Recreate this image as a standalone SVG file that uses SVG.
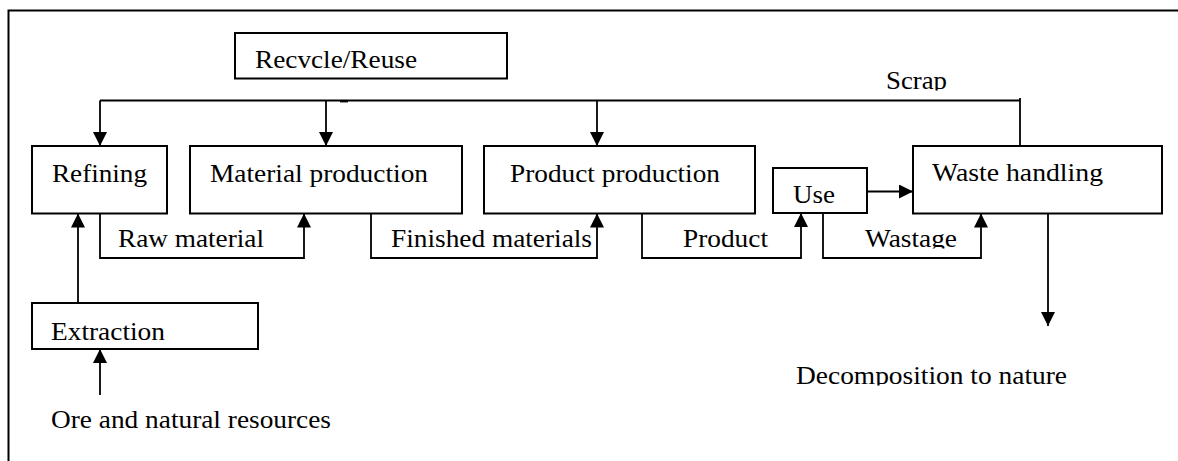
<svg xmlns="http://www.w3.org/2000/svg" width="1178" height="461" viewBox="0 0 1178 461">
  <style>
    .box { fill: #ffffff; stroke: #000000; stroke-width: 2; }
    .frame { fill: none; stroke: #000000; stroke-width: 2; }
    .wire { fill: none; stroke: #000000; stroke-width: 1.8; }
    .arrow { marker-end: url(#head); }
    .lbl { font-family: "Liberation Serif", "Times New Roman", serif; font-size: 25px; fill: #000000; }
  </style>
  <defs>
    <marker id="head" markerUnits="userSpaceOnUse" markerWidth="14" markerHeight="14" refX="14" refY="7" orient="auto">
      <path d="M0,0 L14,7 L0,14 z" fill="#000000"/>
    </marker>
    <!-- labels whose descenders are cut off by their text frames -->
    <clipPath id="clip-scrap"><rect x="870" y="60" width="100" height="30.5"/></clipPath>
    <clipPath id="clip-wastage"><rect x="850" y="220" width="120" height="28.5"/></clipPath>
    <clipPath id="clip-decomp"><rect x="780" y="355" width="300" height="30.5"/></clipPath>
  </defs>

  <rect width="1178" height="461" fill="#ffffff"/>
  <path class="frame" d="M8.5,461 V10.5 H1178"/>

  <g id="connectors">
    <!-- recycle / scrap return line -->
    <path class="wire" d="M100,100.5 H1020"/>
    <path class="wire" d="M1020,98 V146"/>
    <path class="wire" d="M340,101.5 H348"/>
    <path class="wire arrow" d="M100,100.5 V146"/>
    <path class="wire arrow" d="M326,100.5 V146"/>
    <path class="wire arrow" d="M597,100.5 V146"/>
    <!-- main material chain -->
    <path class="wire arrow" d="M78,303 V213.5"/>
    <path class="wire arrow" d="M100,213.5 V258 H304 V213.5"/>
    <path class="wire arrow" d="M371,213.5 V258 H597 V213.5"/>
    <path class="wire arrow" d="M642,213.5 V258 H801 V213"/>
    <path class="wire arrow" d="M823,213 V258 H981 V213.5"/>
    <path class="wire arrow" d="M867,191.5 H913"/>
    <path class="wire arrow" d="M1048,213.5 V326"/>
    <path class="wire arrow" d="M100,395 V349"/>
  </g>

  <g id="recycle">
    <rect class="box" x="235" y="33" width="272" height="45.5"/>
    <text class="lbl" x="255" y="68" textLength="162" lengthAdjust="spacingAndGlyphs">Recvcle/Reuse</text>
  </g>
  <g id="refining">
    <rect class="box" x="32" y="146" width="135" height="67.5"/>
    <text class="lbl" x="52" y="182" textLength="95" lengthAdjust="spacingAndGlyphs">Refining</text>
  </g>
  <g id="material-production">
    <rect class="box" x="190" y="146" width="272" height="67.5"/>
    <text class="lbl" x="210" y="182" textLength="218" lengthAdjust="spacingAndGlyphs">Material production</text>
  </g>
  <g id="product-production">
    <rect class="box" x="484" y="146" width="271" height="67.5"/>
    <text class="lbl" x="510" y="182" textLength="210" lengthAdjust="spacingAndGlyphs">Product production</text>
  </g>
  <g id="use">
    <rect class="box" x="773" y="168" width="94" height="45"/>
    <text class="lbl" x="793" y="203" textLength="42" lengthAdjust="spacingAndGlyphs">Use</text>
  </g>
  <g id="waste-handling">
    <rect class="box" x="913" y="146" width="249" height="67.5"/>
    <text class="lbl" x="932" y="181" textLength="171" lengthAdjust="spacingAndGlyphs">Waste handling</text>
  </g>
  <g id="extraction">
    <rect class="box" x="32" y="303" width="226" height="46"/>
    <text class="lbl" x="51" y="340" textLength="114" lengthAdjust="spacingAndGlyphs">Extraction</text>
  </g>

  <g id="labels">
    <text class="lbl" x="886" y="89" textLength="61" lengthAdjust="spacingAndGlyphs" clip-path="url(#clip-scrap)">Scrap</text>
    <text class="lbl" x="118" y="247" textLength="146" lengthAdjust="spacingAndGlyphs">Raw material</text>
    <text class="lbl" x="391" y="247" textLength="201" lengthAdjust="spacingAndGlyphs">Finished materials</text>
    <text class="lbl" x="683" y="247" textLength="85" lengthAdjust="spacingAndGlyphs">Product</text>
    <text class="lbl" x="865" y="246.5" textLength="92" lengthAdjust="spacingAndGlyphs" clip-path="url(#clip-wastage)">Wastage</text>
    <text class="lbl" x="51" y="428" textLength="280" lengthAdjust="spacingAndGlyphs">Ore and natural resources</text>
    <text class="lbl" x="796" y="384" textLength="271" lengthAdjust="spacingAndGlyphs" clip-path="url(#clip-decomp)">Decomposition to nature</text>
  </g>
</svg>
